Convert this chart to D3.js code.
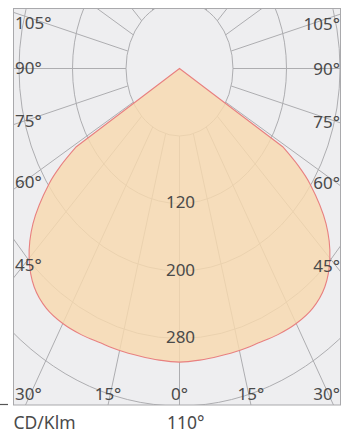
<!DOCTYPE html>
<html><head><meta charset="utf-8">
<script src="https://cdn.jsdelivr.net/npm/d3@7"></script>
<style>html,body{margin:0;padding:0;background:#fff;}svg{display:block;}</style>
</head><body>
<script>
// ---- data ----
const angles = [0,5,10,15,20,25,30,35,40,45,50,55,57,59];          // degrees from nadir
const intensity = [308,307,306,306,306,308,309,307,298,278,246,198,172,140]; // cd/klm
const ringValues = [40,120,200,280,360];
const ringLabels = [120,200,280];
const rayAngles = d3.range(0,360,15);
const sideLabelAngles = [45,60,75,90,105];
const bottomLabelAngles = [-30,-15,0,15,30];
const unitLabel = "CD/Klm";
const beamLabel = "110°";

const W=347,H=434;
const box={x0:13.5,y0:8.5,x1:340.5,y1:405};
const cx=179.5, cy=68.5;
const rX=d3.scaleLinear().domain([-40,360]).range([0,267.5]);
const rY=d3.scaleLinear().domain([-40,360]).range([0,337.5]);
const rad=d=>d*Math.PI/180;
const pt=(a,v)=>[cx+rX(v)*Math.sin(rad(a)), cy+rY(v)*Math.cos(rad(a))];

const svg=d3.select("body").append("svg").attr("width",W).attr("height",H);
svg.append("defs").append("clipPath").attr("id","clip")
  .append("rect").attr("x",box.x0).attr("y",box.y0).attr("width",box.x1-box.x0).attr("height",box.y1-box.y0);

svg.append("rect").attr("x",box.x0).attr("y",box.y0).attr("width",box.x1-box.x0).attr("height",box.y1-box.y0)
  .attr("fill","#eeeef0");

const g=svg.append("g").attr("clip-path","url(#clip)");
const gridColor="#adadb0";
g.selectAll("ellipse").data(ringValues).join("ellipse")
  .attr("cx",cx).attr("cy",cy).attr("rx",d=>rX(d)).attr("ry",d=>rY(d))
  .attr("fill","none").attr("stroke",gridColor).attr("stroke-width",1);
g.selectAll("line.ray").data(rayAngles).join("line").attr("class","ray")
  .attr("x1",d=>pt(d,ringValues[0])[0]).attr("y1",d=>pt(d,ringValues[0])[1])
  .attr("x2",d=>pt(d,2000)[0]).attr("y2",d=>pt(d,2000)[1])
  .attr("stroke",gridColor).attr("stroke-width",1);

// lobe
const lobe=[];
for(let i=angles.length-1;i>0;i--) lobe.push(pt(-angles[i],intensity[i]));
for(let i=0;i<angles.length;i++) lobe.push(pt(angles[i],intensity[i]));
const c0=pt(0,-40);
const pathD=d3.line().curve(d3.curveCatmullRom)(lobe)+"L"+c0[0]+","+c0[1]+"Z";
g.append("path").attr("d",pathD).attr("fill","#f8d9ae").attr("fill-opacity",0.82)
  .attr("stroke","#e88080").attr("stroke-width",1.1);

svg.append("rect").attr("x",box.x0).attr("y",box.y0).attr("width",box.x1-box.x0).attr("height",box.y1-box.y0)
  .attr("fill","none").attr("stroke","#a9a9ac").attr("stroke-width",1);

const font='"Noto Sans", sans-serif';
const tc="#4a4a4a";
const fs=17;
// ring labels
svg.selectAll("text.ring").data(ringLabels).join("text").attr("class","ring")
  .attr("x",d=>pt(0,d)[0]+1).attr("y",d=>pt(0,d)[1]-1).attr("dy","0.35em")
  .attr("text-anchor","middle").attr("font-family",font).attr("font-size",fs).attr("fill",tc).text(d=>d);

// side labels
const ratio=(rY(0)-rY(-40))/(rX(0)-rX(-40));
sideLabelAngles.forEach(a=>{
  const yInt=cy+(cx-box.x0)*ratio/Math.tan(rad(a));
  let y=cy+0.94*(yInt-cy);
  y=Math.max(y,box.y0+15);
  svg.append("text").attr("x",box.x0+1.5).attr("y",y).attr("dy","0.35em")
    .attr("font-family",font).attr("font-size",fs).attr("fill",tc).text(a+"°");
  svg.append("text").attr("x",box.x1-0.5).attr("y",y+1).attr("dy","0.35em").attr("text-anchor","end")
    .attr("font-family",font).attr("font-size",fs).attr("fill",tc).text(a+"°");
});
// bottom labels
bottomLabelAngles.forEach(a=>{
  const xInt=cx+(box.y1-cy)/ratio*Math.tan(rad(a));
  const t=svg.append("text").attr("y",box.y1-11).attr("dy","0.35em").attr("text-anchor","middle")
    .attr("font-family",font).attr("font-size",fs).attr("fill",tc).text(Math.abs(a)+"°");
  const w=t.node().getComputedTextLength();
  const x=Math.min(Math.max(xInt,box.x0+1.5+w/2),box.x1-0.5-w/2);
  t.attr("x",x);
});
svg.append("text").attr("x",box.x0).attr("y",429).attr("font-family",font).attr("font-size",17.5).attr("fill",tc).text(unitLabel);
svg.append("text").attr("x",167).attr("y",429).attr("font-family",font).attr("font-size",17.5).attr("fill",tc).text(beamLabel);
svg.append("line").attr("x1",0).attr("x2",8).attr("y1",404.5).attr("y2",404.5).attr("stroke","#555").attr("stroke-width",1.2);
</script>
</body></html>
